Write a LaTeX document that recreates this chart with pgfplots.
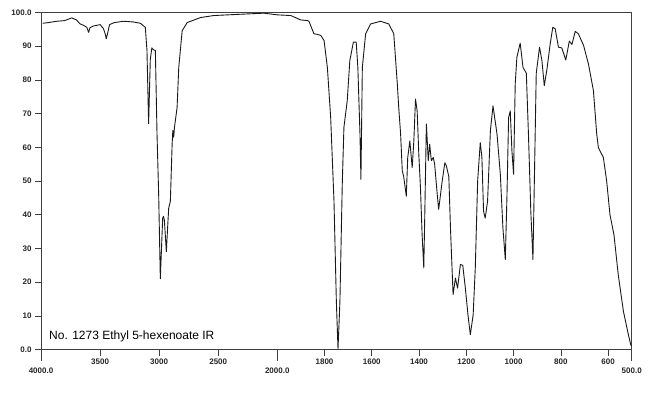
\documentclass[border=0pt]{standalone}
\usepackage{fontspec}
\setmainfont{Liberation Sans}
\usepackage{pgfplots}
\pgfplotsset{compat=1.18}
\begin{document}
\begin{tikzpicture}[x=1pt,y=1pt]
\useasboundingbox (0,0) rectangle (650,397);
\begin{axis}[at={(41pt,47.5pt)}, anchor=south west, scale only axis,
  width=590.7pt, height=337pt,
  xmin=0, xmax=2500, ymin=0, ymax=100,
  axis line style={line width=0.6pt, black!75},
  tick align=outside, xtick pos=bottom, ytick pos=left,
  major tick length=6pt,
  tick style={black!75, line width=0.6pt},
  xtick={250,500,750,1200,1400,1600,1800,2000,2200,2400},
  xticklabels={3500,3000,2500,1800,1600,1400,1200,1000,800,600},
  extra x ticks={0,1000,2500},
  extra x tick labels={4000.0,2000.0,500.0},
  extra x tick style={major tick length=11pt, tick label style={yshift=-4pt}},
  ytick={0,10,20,30,40,50,60,70,80,90,100},
  yticklabels={0.0,10,20,30,40,50,60,70,80,90,100.0},
  tick label style={font=\fontsize{8}{9}\selectfont\bfseries, black!85},
  /pgf/number format/assume math mode=true,
]
\addplot[black!90, line width=0.9pt, line join=round, mark=none]
  table[x expr={(\thisrow{wn}>=2000) ? ((4000-\thisrow{wn})/2) : (3000-\thisrow{wn})}, y=T] {
wn T
3986 96.8
3940 97.0
3867 97.4
3800 97.6
3739 98.4
3700 97.8
3669 96.6
3640 96.2
3612 95.6
3597 94.1
3585 95.5
3556 96.0
3499 96.4
3471 95.2
3455 93.5
3448 92.2
3438 93.5
3420 96.4
3380 97.0
3301 97.4
3220 97.2
3159 96.8
3117 95.6
3103 88.7
3089 67.0
3075 86.0
3062 89.5
3050 89.0
3032 88.7
3018 64.0
3004 46.0
2990 21.0
2980 30.0
2970 39.0
2963 39.5
2956 38.5
2939 29.0
2930 35.0
2919 42.0
2905 44.0
2890 61.0
2884 65.0
2877 63.0
2870 66.0
2848 71.8
2834 83.7
2805 94.6
2763 97.0
2650 98.5
2537 99.1
2300 99.5
2113 99.8
2000 99.3
1943 99.1
1901 97.8
1872 97.6
1866 97.4
1845 93.7
1830 93.5
1816 93.2
1802 91.7
1788 83.7
1774 68.8
1760 44.0
1750 14.3
1743 0.2
1735 14.0
1725 49.0
1718 65.9
1704 73.8
1693 85.7
1678 91.2
1666 91.2
1659 83.7
1650 63.9
1646 50.5
1640 83.7
1626 93.7
1605 96.6
1563 97.4
1528 96.6
1507 93.7
1492 78.8
1486 71.8
1478 63.9
1471 53.0
1465 51.3
1454 45.5
1448 56.9
1439 61.9
1429 54.0
1422 62.0
1415 74.3
1408 70.8
1401 57.9
1394 48.0
1387 34.0
1380 24.2
1376 39.0
1369 66.9
1361 56.0
1355 60.9
1348 56.0
1340 57.0
1334 55.0
1323 46.0
1317 41.6
1302 50.0
1291 55.4
1284 54.4
1274 51.3
1267 36.0
1256 16.3
1246 21.2
1237 18.2
1225 25.2
1215 25.0
1204 18.2
1193 10.3
1183 4.4
1171 10.3
1162 24.2
1152 50.0
1141 61.4
1134 57.0
1127 41.0
1120 39.0
1110 44.0
1098 65.0
1087 72.3
1070 63.9
1056 52.0
1045 36.0
1035 26.7
1028 45.4
1021 68.8
1014 70.8
1007 59.0
1000 52.0
993 78.8
986 86.7
972 90.9
960 83.7
946 82.0
937 63.9
927 41.0
918 26.7
911 54.0
904 82.0
890 89.7
880 85.7
870 78.3
859 83.0
845 90.7
834 95.6
824 95.2
810 89.7
796 89.5
779 85.9
764 91.5
753 90.5
739 94.4
726 93.7
704 90.3
683 84.7
662 76.8
648 63.9
641 59.9
620 57.0
606 50.0
592 40.0
575 34.0
557 22.2
535 11.3
514 4.4
504 1.4
500 1.0
};
\node[anchor=base west, inner sep=0pt, font=\fontsize{12}{14}\selectfont]
  at (rel axis cs:0.0135,0.031) {No. 1273 Ethyl 5-hexenoate IR};
\end{axis}
\end{tikzpicture}
\end{document}
